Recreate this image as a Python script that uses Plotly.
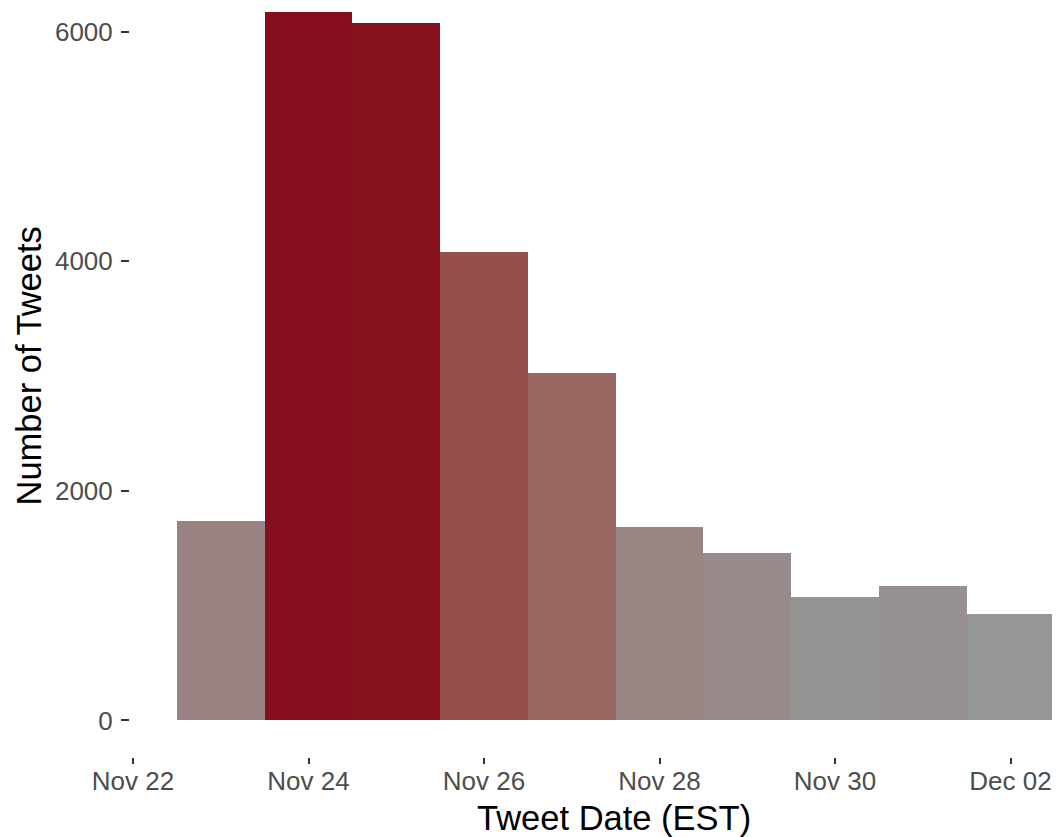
import plotly.graph_objects as go

# ---- data ----
dates = ["2018-11-23", "2018-11-24", "2018-11-25", "2018-11-26", "2018-11-27",
         "2018-11-28", "2018-11-29", "2018-11-30", "2018-12-01", "2018-12-02"]
counts = [1740, 6174, 6073, 4081, 3024, 1683, 1462, 1073, 1174, 930]
x_tick_vals = ["2018-11-22", "2018-11-24", "2018-11-26", "2018-11-28", "2018-11-30", "2018-12-02"]
x_tick_text = ["Nov 22", "Nov 24", "Nov 26", "Nov 28", "Nov 30", "Dec 02"]
y_tick_vals = [0, 2000, 4000, 6000]
y_tick_text = ["0", "2000", "4000", "6000"]

LOW = "#959697"
HIGH = "#870E1C"


# ---- Lab-space gradient (like ggplot2 scale_fill_gradient) ----
def _hex2rgb(h):
    h = h.lstrip("#")
    return [int(h[i:i + 2], 16) / 255 for i in (0, 2, 4)]


def _lin(c):
    return c / 12.92 if c <= 0.04045 else ((c + 0.055) / 1.055) ** 2.4


def _delin(c):
    c = max(0.0, min(1.0, c))
    return 12.92 * c if c <= 0.0031308 else 1.055 * c ** (1 / 2.4) - 0.055


WHITE = (0.95047, 1.0, 1.08883)


def _rgb2lab(rgb):
    r, g, b = [_lin(c) for c in rgb]
    X = 0.4124 * r + 0.3576 * g + 0.1805 * b
    Y = 0.2126 * r + 0.7152 * g + 0.0722 * b
    Z = 0.0193 * r + 0.1192 * g + 0.9505 * b

    def f(t):
        return t ** (1 / 3) if t > 0.008856 else 7.787 * t + 16 / 116

    fx, fy, fz = f(X / WHITE[0]), f(Y / WHITE[1]), f(Z / WHITE[2])
    return (116 * fy - 16, 500 * (fx - fy), 200 * (fy - fz))


def _lab2hex(lab):
    L, a, b = lab
    fy = (L + 16) / 116
    fx = fy + a / 500
    fz = fy - b / 200

    def finv(t):
        return t ** 3 if t ** 3 > 0.008856 else (t - 16 / 116) / 7.787

    X, Y, Z = finv(fx) * WHITE[0], finv(fy) * WHITE[1], finv(fz) * WHITE[2]
    r = 3.2406 * X - 1.5372 * Y - 0.4986 * Z
    g = -0.9689 * X + 1.8758 * Y + 0.0415 * Z
    bb = 0.0557 * X - 0.2040 * Y + 1.0570 * Z
    return "#" + "".join("%02X" % round(_delin(c) * 255) for c in (r, g, bb))


lo_lab, hi_lab = _rgb2lab(_hex2rgb(LOW)), _rgb2lab(_hex2rgb(HIGH))
n_stops = 21
colorscale = []
for i in range(n_stops):
    t = i / (n_stops - 1)
    lab = tuple(lo_lab[k] + (hi_lab[k] - lo_lab[k]) * t for k in range(3))
    colorscale.append([t, _lab2hex(lab)])

FONT = "Liberation Sans, Arial, Helvetica, sans-serif"

# layout geometry (figure pixels)
L_M, B_M, T_M, R_M = 122, 88, 0, 0
W, H = 1060, 837
PW, PH = W - L_M - R_M, H - T_M - B_M

fig = go.Figure(
    go.Bar(
        x=dates,
        y=counts,
        width=86400000,
        marker=dict(
            color=counts,
            colorscale=colorscale,
            cmin=min(counts),
            cmax=max(counts),
            line=dict(width=0),
            showscale=False,
        ),
        hovertemplate="%{x|%b %d}: %{y}<extra></extra>",
    )
)

fig.update_layout(
    width=W,
    height=H,
    margin=dict(l=L_M, r=R_M, t=T_M, b=B_M),
    paper_bgcolor="white",
    plot_bgcolor="white",
    bargap=0,
    showlegend=False,
    font=dict(family=FONT, size=26, color="#4D4D4D"),
)

fig.update_xaxes(
    type="date",
    range=["2018-11-21 23:11", "2018-12-02 15:43"],
    tickvals=x_tick_vals,
    ticktext=x_tick_text,
    ticks="outside",
    ticklen=6,
    tickwidth=2,
    tickcolor="#333333",
    ticklabelstandoff=-5,
    showgrid=False,
    zeroline=False,
    showline=False,
    tickfont=dict(family=FONT, size=26, color="#4D4D4D"),
)

fig.update_yaxes(
    range=[-318, 6206],
    tickvals=y_tick_vals,
    ticktext=y_tick_text,
    ticks="outside",
    ticklen=8,
    tickwidth=2,
    tickcolor="#333333",
    ticklabelstandoff=3,
    showgrid=False,
    zeroline=False,
    showline=False,
    tickfont=dict(family=FONT, size=26, color="#4D4D4D"),
)

fig.add_annotation(
    text="Tweet Date (EST)",
    xref="paper", yref="paper",
    x=(606 - L_M) / PW, y=(PH - (810 - T_M)) / PH,
    xanchor="center", yanchor="middle",
    showarrow=False,
    font=dict(family=FONT, size=34.5, color="black"),
)
fig.add_annotation(
    text="Number of Tweets",
    xref="paper", yref="paper",
    x=(20.5 - L_M) / PW, y=(PH - (358 - T_M)) / PH,
    xanchor="center", yanchor="middle",
    textangle=-90,
    showarrow=False,
    font=dict(family=FONT, size=34.5, color="black"),
)

fig.write_html("out.html")
